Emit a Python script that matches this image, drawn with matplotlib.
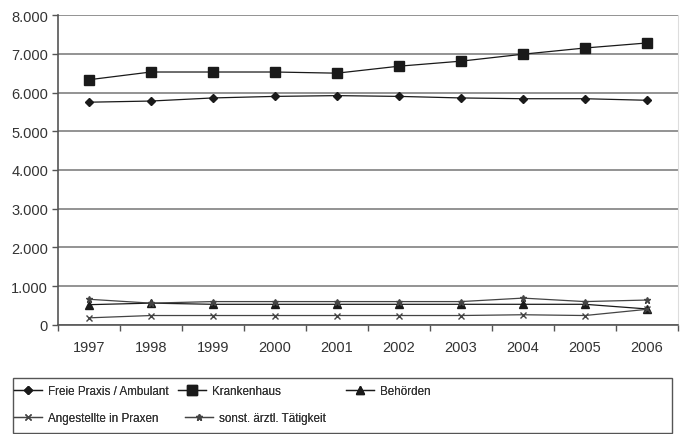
import matplotlib
matplotlib.use("Agg")
import matplotlib.pyplot as plt
from matplotlib.ticker import FuncFormatter, FixedLocator
from matplotlib.patches import Rectangle
import numpy as np

plt.rcParams['font.family'] = ['Liberation Sans', 'DejaVu Sans']

years = ["1997", "1998", "1999", "2000", "2001", "2002", "2003", "2004", "2005", "2006"]

freie_praxis = [5750, 5780, 5860, 5900, 5920, 5900, 5860, 5840, 5840, 5800]
krankenhaus = [6330, 6530, 6530, 6530, 6500, 6680, 6810, 6990, 7150, 7280]
behoerden = [520, 560, 530, 530, 530, 530, 530, 530, 530, 410]
angestellte = [180, 240, 240, 240, 240, 240, 240, 260, 240, 400]
sonstige = [660, 560, 600, 600, 600, 600, 600, 690, 600, 640]

labels = ["Freie Praxis / Ambulant", "Krankenhaus", "Behörden",
          "Angestellte in Praxen", "sonst. ärztl. Tätigkeit"]

W, H = 680, 435
fig = plt.figure(figsize=(W / 100, H / 100), dpi=100)
ax = fig.add_axes([0.085, 0.251, 0.912, 0.712])

x = np.arange(len(years))
lc = "#1a1a1a"
h_freie, = ax.plot(x, freie_praxis, color=lc, lw=0.9, marker="D", ms=3.8)
h_kh, = ax.plot(x, krankenhaus, color=lc, lw=0.9, marker="s", ms=7)
h_beh, = ax.plot(x, behoerden, color=lc, lw=0.9, marker="^", ms=5.5)
h_ang, = ax.plot(x, angestellte, color="#444444", lw=0.9, marker="x", ms=4, mew=1)
h_son, = ax.plot(x, sonstige, color="#444444", lw=0.9, marker="*", ms=5)

ax.set_xlim(-0.5, len(years) - 0.5)
ax.set_ylim(0, 8000)
ax.set_yticks(np.arange(0, 8001, 1000))
ax.yaxis.set_major_formatter(FuncFormatter(lambda v, p: f"{int(v):,}".replace(",", ".")))
ax.set_xticks(x)
ax.set_xticklabels(years)
ax.xaxis.set_minor_locator(FixedLocator(np.arange(-0.5, len(years), 1.0)))
ax.tick_params(axis="x", which="major", length=0, pad=11, labelsize=10.5, colors="#333333")
ax.tick_params(axis="x", which="minor", length=4, width=1, color="#555555")
ax.tick_params(axis="y", length=4, width=1, color="#555555", labelsize=10.5,
               labelcolor="#333333", pad=3)

ax.grid(axis="y", color="#8a8a8a", lw=1.3)
ax.set_axisbelow(True)
ax.spines["top"].set_visible(False)
ax.spines["right"].set_color("#dddddd")
for side in ("left", "bottom"):
    ax.spines[side].set_color("#555555")
    ax.spines[side].set_linewidth(1.2)

# legend frame spanning the figure width
fig.patches.append(Rectangle((13 / W, 1 - 434 / H), 659 / W, 55 / H,
                             transform=fig.transFigure, fill=False,
                             edgecolor="#555555", lw=1))

# legend entries laid out in two rows
entries = [
    (h_freie, labels[0], 14, 392),
    (h_kh, labels[1], 178, 392),
    (h_beh, labels[2], 346, 392),
    (h_ang, labels[3], 14, 419),
    (h_son, labels[4], 185, 419),
]
for handle, text, px, py in entries:
    lg = fig.legend([handle], [text], loc="center left",
                    bbox_to_anchor=(px / W, 1 - py / H), frameon=False,
                    fontsize=8.4, handlelength=2.4, handletextpad=0.55,
                    borderpad=0, borderaxespad=0)
    for t in lg.get_texts():
        t.set_color("#333333")
    fig.add_artist(lg)

fig.savefig("out.png", dpi=100)
